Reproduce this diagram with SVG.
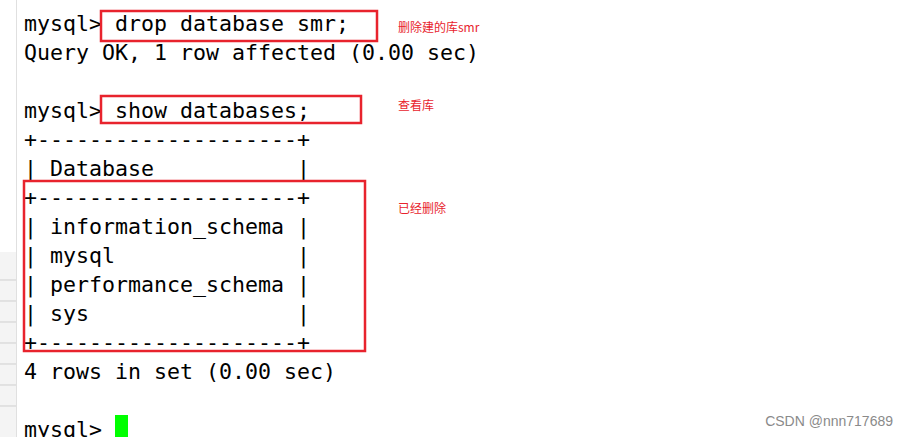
<svg xmlns="http://www.w3.org/2000/svg" width="907" height="437" viewBox="0 0 907 437">
<style>
.t{font-family:"DejaVu Sans Mono","Liberation Mono",monospace;font-size:21.6px;fill:#000;white-space:pre}
.r{fill:none;stroke:#e8232d;stroke-width:2.5}
.n{font-family:"Noto Sans CJK SC",sans-serif;font-size:12px;fill:#e8232d}
</style>
<rect width="907" height="437" fill="#fff"/>
<g id="side">
<line x1="16.5" y1="0" x2="16.5" y2="437" stroke="#e0e0e0"/>
<rect x="0" y="252" width="16" height="185" fill="#f4f4f4"/>
<g stroke="#cfcfcf"><line x1="0" y1="280" x2="16" y2="280"/><line x1="0" y1="301" x2="16" y2="301"/><line x1="0" y1="322" x2="16" y2="322"/><line x1="0" y1="343" x2="16" y2="343"/><line x1="0" y1="364" x2="16" y2="364"/><line x1="0" y1="385" x2="16" y2="385"/><line x1="0" y1="406" x2="16" y2="406"/></g>
</g>
<g id="terminal">
<text class="t" x="24" y="31">mysql&gt; drop database smr;</text>
<text class="t" x="24" y="60">Query OK, 1 row affected (0.00 sec)</text>
<text class="t" x="24" y="118">mysql&gt; show databases;</text>
<text class="t" x="24" y="147">+--------------------+</text>
<text class="t" x="24" y="176">| Database           |</text>
<text class="t" x="24" y="205">+--------------------+</text>
<text class="t" x="24" y="234">| information_schema |</text>
<text class="t" x="24" y="263">| mysql              |</text>
<text class="t" x="24" y="292">| performance_schema |</text>
<text class="t" x="24" y="321">| sys                |</text>
<text class="t" x="24" y="350">+--------------------+</text>
<text class="t" x="24" y="379">4 rows in set (0.00 sec)</text>
<text class="t" x="24" y="437">mysql&gt; </text>
<rect x="115" y="415" width="13" height="22" fill="#00ff00"/>
</g>
<g id="annotations">
<rect class="r" x="101" y="11" width="276" height="30"/>
<rect class="r" x="101" y="96" width="260" height="27"/>
<rect class="r" x="24" y="181" width="341" height="170"/>
<text class="n" x="398" y="32">删除建的库smr</text>
<text class="n" x="398" y="110">查看库</text>
<text class="n" x="398" y="213">已经删除</text>
</g>
<text x="893" y="426" text-anchor="end" font-family="Liberation Sans,sans-serif" font-size="14" fill="#8a8a8a">CSDN @nnn717689</text>
</svg>
